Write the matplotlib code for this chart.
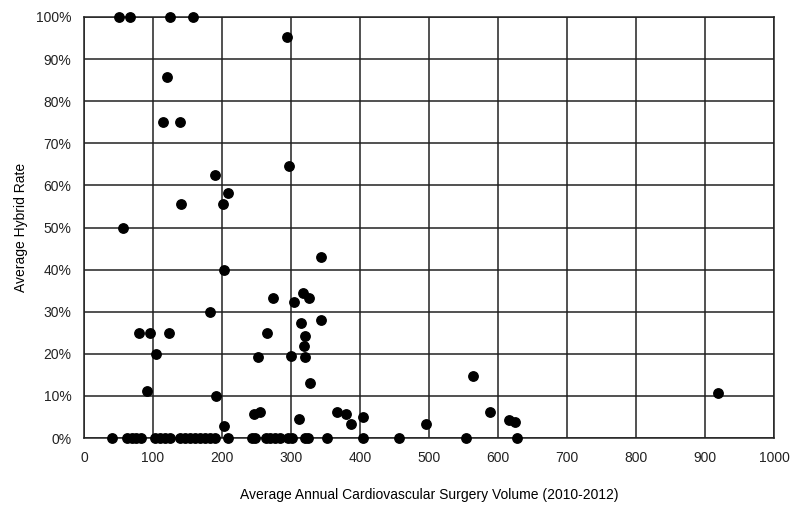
import numpy as np
import matplotlib
matplotlib.use("Agg")
from matplotlib import pyplot as plt
from matplotlib.ticker import PercentFormatter

plt.rcParams['font.family'] = ['Liberation Sans', 'DejaVu Sans']

# hospitals with no hybrid procedures
zero_volume = [41, 62, 69, 76, 83, 103, 110, 117, 125, 139, 146, 153, 161, 168,
               175, 183, 190, 209, 243, 248, 264, 270, 277, 284, 296, 301, 320,
               325, 352, 405, 457, 554, 627]

# hospitals with hybrid procedures (volume, rate %)
volume = [50, 66, 124, 158, 294, 120, 115, 139, 297, 190, 208, 141, 202, 56,
          344, 203, 274, 318, 326, 305, 183, 344, 314, 80, 95, 123, 265, 320,
          104, 319, 252, 300, 321, 328, 564, 92, 191, 919, 255, 246, 366, 380,
          405, 312, 387, 495, 203, 588, 616, 625]
rate = [100, 100, 100, 100, 95.2, 85.7, 75, 75, 64.7, 62.5, 58.3, 55.6, 55.6, 50,
        42.9, 40, 33.3, 34.5, 33.3, 32.3, 30, 28, 27.3, 25, 25, 25, 25, 24.2,
        20, 21.9, 19.2, 19.5, 19.2, 13.1, 14.7, 11.1, 10, 10.8, 6.2, 5.6, 6.2, 5.6,
        5, 4.4, 3.3, 3.4, 2.9, 6.2, 4.3, 3.9]

all_x = zero_volume + volume
all_y = [0] * len(zero_volume) + rate

fig = plt.figure(figsize=(8, 5.15), dpi=100)
ax = fig.add_axes([0.105, 0.1495, 0.8625, 0.8175])

ax.scatter(all_x, all_y, s=46, c='black', zorder=3, clip_on=False)

ax.set_xlim(0, 1000)
ax.set_ylim(0, 100)
ax.set_xticks(np.arange(0, 1001, 100))
ax.set_yticks(np.arange(0, 101, 10))
ax.yaxis.set_major_formatter(PercentFormatter(decimals=0))
ax.grid(True, color='#222222', linewidth=1.1)
ax.set_axisbelow(True)
ax.tick_params(length=0, labelsize=10, pad=9, colors='#222222')
for s in ax.spines.values():
    s.set_color('#222222')
    s.set_linewidth(1.1)

ax.set_xlabel("Average Annual Cardiovascular Surgery Volume (2010-2012)", fontsize=10, labelpad=17)
ax.set_ylabel("Average Hybrid Rate", fontsize=10, labelpad=6)

fig.savefig("out.png", dpi=100)
